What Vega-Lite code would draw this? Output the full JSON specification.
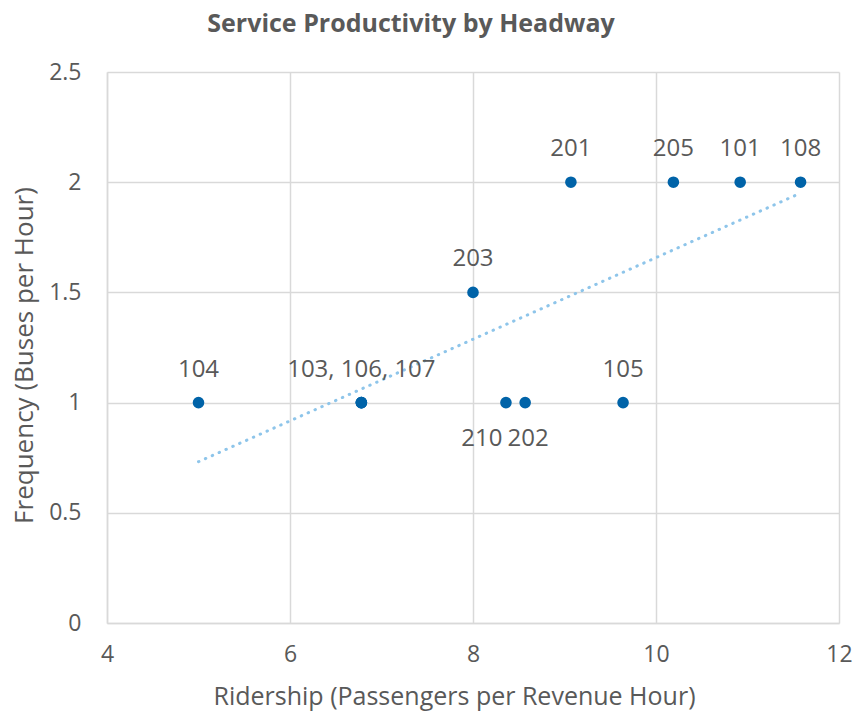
{
  "$schema": "https://vega.github.io/schema/vega-lite/v6.json",
  "width": 732,
  "height": 551,
  "autosize": {"type": "none"},
  "padding": {"left": 107, "top": 72, "right": 15, "bottom": 91},
  "background": "white",
  "title": {
    "text": "Service Productivity by Headway",
    "font": "Open Sans",
    "fontSize": 25,
    "fontWeight": "bold",
    "color": "#595959",
    "anchor": "middle",
    "dx": -62,
    "offset": 24
  },
  "config": {
    "view": {"stroke": null},
    "font": "Open Sans",
    "axis": {
      "labelFont": "Open Sans",
      "titleFont": "Open Sans",
      "labelFontSize": 23,
      "titleFontSize": 25,
      "titleFontWeight": "normal",
      "labelColor": "#595959",
      "titleColor": "#595959",
      "gridColor": "#d9d9d9",
      "gridWidth": 1.5,
      "domainColor": "#d9d9d9",
      "domainWidth": 1.5,
      "ticks": false,
      "labelFlush": false
    }
  },
  "data": {
    "values": [
      {"route": "104", "ridership": 5.0, "frequency": 1, "label": "104"},
      {"route": "103", "ridership": 6.78, "frequency": 1, "label": "103, 106, 107"},
      {"route": "106", "ridership": 6.78, "frequency": 1, "label": ""},
      {"route": "107", "ridership": 6.78, "frequency": 1, "label": ""},
      {"route": "210", "ridership": 8.36, "frequency": 1, "label": "210"},
      {"route": "202", "ridership": 8.57, "frequency": 1, "label": "202"},
      {"route": "105", "ridership": 9.64, "frequency": 1, "label": "105"},
      {"route": "203", "ridership": 8.0, "frequency": 1.5, "label": "203"},
      {"route": "201", "ridership": 9.07, "frequency": 2, "label": "201"},
      {"route": "205", "ridership": 10.19, "frequency": 2, "label": "205"},
      {"route": "101", "ridership": 10.92, "frequency": 2, "label": "101"},
      {"route": "108", "ridership": 11.58, "frequency": 2, "label": "108"}
    ]
  },
  "encoding": {
    "x": {
      "field": "ridership",
      "type": "quantitative",
      "scale": {"domain": [4, 12], "nice": false, "zero": false},
      "axis": {
        "title": "Ridership (Passengers per Revenue Hour)",
        "values": [4, 6, 8, 10, 12],
        "labelPadding": 20,
        "titlePadding": 18,
        "titleX": 347
      }
    },
    "y": {
      "field": "frequency",
      "type": "quantitative",
      "scale": {"domain": [0, 2.5], "nice": false},
      "axis": {
        "title": "Frequency (Buses per Hour)",
        "titleFontSize": 26,
        "values": [0, 0.5, 1, 1.5, 2, 2.5],
        "format": ".1~f",
        "labelPadding": 26,
        "titlePadding": 11,
        "titleY": 283
      }
    }
  },
  "layer": [
    {
      "transform": [{"regression": "frequency", "on": "ridership"}],
      "mark": {
        "type": "line",
        "color": "#8ec5ea",
        "strokeWidth": 3,
        "strokeDash": [0.5, 7],
        "strokeCap": "round"
      }
    },
    {
      "mark": {"type": "circle", "color": "#0063a8", "opacity": 1, "size": 135}
    },
    {
      "transform": [{"filter": "datum.label != '210' && datum.label != '202'"}],
      "mark": {
        "type": "text",
        "fontSize": 24,
        "color": "#595959",
        "baseline": "middle",
        "dy": -33
      },
      "encoding": {"text": {"field": "label"}}
    },
    {
      "transform": [{"filter": "datum.label == '202'"}],
      "mark": {
        "type": "text",
        "fontSize": 24,
        "color": "#595959",
        "baseline": "middle",
        "dy": 36,
        "dx": 3
      },
      "encoding": {"text": {"field": "label"}}
    },
    {
      "transform": [{"filter": "datum.label == '210'"}],
      "mark": {
        "type": "text",
        "fontSize": 24,
        "color": "#595959",
        "baseline": "middle",
        "dy": 36,
        "dx": -24
      },
      "encoding": {"text": {"field": "label"}}
    }
  ]
}
